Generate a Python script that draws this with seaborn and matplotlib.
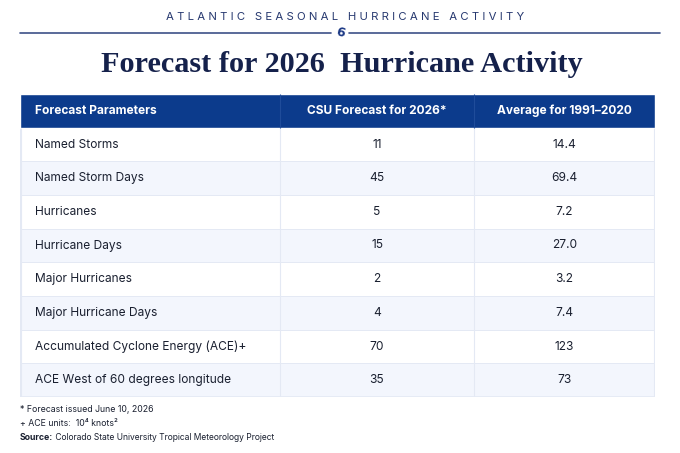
import numpy as np
import seaborn as sns
import matplotlib.pyplot as plt
from matplotlib.colors import ListedColormap


# Table content
HEADERS = ['Forecast Parameters', 'CSU Forecast for 2026*', 'Average for 1991\u20132020']
PARAMETERS = ['Named Storms', 'Named Storm Days', 'Hurricanes', 'Hurricane Days',
              'Major Hurricanes', 'Major Hurricane Days',
              'Accumulated Cyclone Energy (ACE)+', 'ACE West of 60 degrees longitude']
FORECAST_2026 = [11, 45, 5, 15, 2, 4, 70, 35]
AVERAGE_1991_2020 = ['14.4', '69.4', '7.2', '27.0', '3.2', '7.4', '123', '73']

SUPTITLE = 'ATLANTIC SEASONAL HURRICANE ACTIVITY'
TITLE = 'Forecast for 2026  Hurricane Activity'
NOTES = ['* Forecast issued June 10, 2026', '+ ACE units:  10\u2074 knots\u00b2']
SOURCE = 'Colorado State University Tropical Meteorology Project'

NAVY = '#15214b'
HEADER_BLUE = '#0c3b8c'
STRIPE = '#f3f6fd'
GRID = '#e4e9f4'
TEXT = '#1a2030'

sns.set_theme(style='white')
plt.rcParams['font.family'] = ['Inter', 'DejaVu Sans']

fig = plt.figure(figsize=(6.8, 4.53), dpi=100)

# overlay axes in pixel units for the title block and notes
top = fig.add_axes([0, 0, 1, 1])
top.set_xlim(0, 680)
top.set_ylim(453, 0)
top.axis('off')

spaced = '   '.join(' '.join(w) for w in SUPTITLE.split(' '))
top.text(345, 17, spaced, ha='center', va='center', fontsize=8.2, color='#26386f')
top.plot([20, 331], [33, 33], color='#3d5088', lw=1.2)
top.plot([349, 660], [33, 33], color='#3d5088', lw=1.2)
top.text(340, 33, '6', ha='center', va='center', fontsize=9, fontweight='bold',
         color='#1d3a86', family='DejaVu Sans', rotation=-15)
top.text(342, 64, TITLE, ha='center', va='center', fontsize=21.8, fontweight='bold',
         color=NAVY, family=['Liberation Serif', 'DejaVu Serif'])

for k, note in enumerate(NOTES):
    top.text(20, 409 + 15 * k, note, ha='left', va='center', fontsize=6.3, color=TEXT)
src = top.text(20, 438, 'Source:', ha='left', va='center', fontsize=6.3,
               fontweight='bold', color=TEXT)
top.annotate(' ' + SOURCE, xy=(1, 0.5), xycoords=src, ha='left', va='center',
             fontsize=6.1, color=TEXT)

# table axes
ax = fig.add_axes([20 / 680, 1 - 397 / 453, 635 / 680, (397 - 94) / 453])
n = len(PARAMETERS)
stripes = (np.arange(n) % 2).reshape(-1, 1)
sns.heatmap(stripes, cmap=ListedColormap(['#ffffff', STRIPE]), cbar=False,
            linewidths=0.6, linecolor=GRID, xticklabels=False, yticklabels=False, ax=ax)
ax.set_xlim(0, 1)
ax.set_ylim(n, -1)
ax.barh(-0.5, 1, height=1, left=0, color=HEADER_BLUE)

edges = [0, 260 / 635, 454 / 635, 1]
ax.vlines(edges[1:3], 0, n, color=GRID, lw=0.8)
ax.vlines(edges[1:3], -1, 0, color='#1f4c9a', lw=0.8)
ax.vlines([0.0008, 0.9992], 0, n, color=GRID, lw=0.8)
ax.hlines(n, 0, 1, color=GRID, lw=1.2)

centers = [(edges[i] + edges[i + 1]) / 2 for i in range(3)]
pad = 15 / 635
ax.text(pad, -0.5, HEADERS[0], ha='left', va='center', color='white',
        fontsize=8.6, fontweight='bold')
for c, h in zip(centers[1:], HEADERS[1:]):
    ax.text(c, -0.5, h, ha='center', va='center', color='white',
            fontsize=8.6, fontweight='bold')

for i, (p, f, a) in enumerate(zip(PARAMETERS, FORECAST_2026, AVERAGE_1991_2020)):
    ax.text(pad, i + 0.5, p, ha='left', va='center', color=TEXT, fontsize=8.6)
    ax.text(centers[1], i + 0.5, str(f), ha='center', va='center', color=TEXT, fontsize=8.6)
    ax.text(centers[2], i + 0.5, a, ha='center', va='center', color=TEXT, fontsize=8.6)

ax.axis('off')
fig.savefig('out.png', dpi=100)
